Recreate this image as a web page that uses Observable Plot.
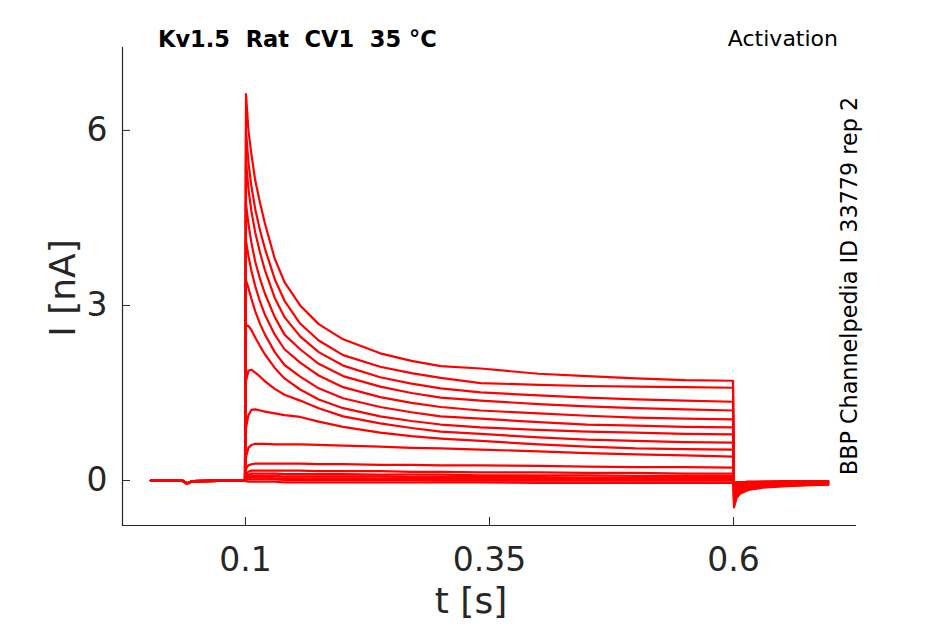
<!DOCTYPE html>
<html><head><meta charset="utf-8">
<script src="https://cdn.jsdelivr.net/npm/d3@7"></script>
<script src="https://cdn.jsdelivr.net/npm/@observablehq/plot@0.6"></script>
<style>
body{margin:0;background:#fff;}
#wrap{position:relative;width:945px;height:624px;}
</style></head><body><div id="wrap"></div>
<script>
// ---- data ----
const xTicks = [0.1, 0.35, 0.6];
const xTickLabels = ["0.1", "0.35", "0.6"];
const yTicks = [0, 3, 6];
const yTickLabels = ["0", "3", "6"];

const preTimes = [0.003, 0.035, 0.040, 0.045, 0.0995];
const baseline = [0.0, 0.0, -0.05, -0.01, 0.0];

const stepTimes = [0.1005, 0.103, 0.106, 0.11, 0.115, 0.12, 0.13, 0.14, 0.156, 0.175,
                   0.2, 0.238, 0.27, 0.3, 0.341, 0.4, 0.45, 0.5, 0.55, 0.5995];
const stepCurrents = [
  [6.62, 6.00, 5.60, 5.14, 4.75, 4.40, 3.80, 3.40, 3.00, 2.68, 2.42, 2.18, 2.05, 1.96, 1.92, 1.83, 1.79, 1.75, 1.72, 1.71],
  [6.00, 5.45, 5.05, 4.65, 4.28, 3.97, 3.45, 3.08, 2.69, 2.40, 2.15, 1.95, 1.84, 1.76, 1.67, 1.64, 1.62, 1.61, 1.60, 1.59],
  [5.49, 5.00, 4.62, 4.25, 3.90, 3.60, 3.13, 2.80, 2.47, 2.20, 1.97, 1.77, 1.66, 1.58, 1.51, 1.46, 1.42, 1.39, 1.37, 1.35],
  [4.75, 4.40, 4.08, 3.75, 3.45, 3.20, 2.80, 2.50, 2.25, 2.00, 1.79, 1.61, 1.50, 1.42, 1.37, 1.31, 1.27, 1.24, 1.22, 1.20],
  [4.11, 3.85, 3.60, 3.33, 3.06, 2.84, 2.50, 2.25, 2.02, 1.80, 1.60, 1.43, 1.33, 1.26, 1.20, 1.15, 1.11, 1.08, 1.06, 1.05],
  [3.43, 3.30, 3.12, 2.90, 2.68, 2.50, 2.20, 1.98, 1.78, 1.58, 1.41, 1.26, 1.17, 1.10, 1.06, 1.00, 0.96, 0.94, 0.92, 0.91],
  [2.66, 2.65, 2.58, 2.45, 2.30, 2.16, 1.93, 1.75, 1.56, 1.39, 1.24, 1.10, 1.02, 0.96, 0.91, 0.87, 0.84, 0.82, 0.80, 0.79],
  [1.70, 1.88, 1.90, 1.85, 1.78, 1.70, 1.57, 1.47, 1.37, 1.24, 1.10, 0.98, 0.90, 0.84, 0.80, 0.74, 0.70, 0.68, 0.66, 0.65],
  [0.90, 1.12, 1.21, 1.22, 1.20, 1.18, 1.15, 1.12, 1.09, 1.01, 0.92, 0.82, 0.76, 0.72, 0.68, 0.62, 0.58, 0.55, 0.54, 0.53],
  [0.40, 0.56, 0.61, 0.63, 0.63, 0.63, 0.62, 0.62, 0.62, 0.61, 0.60, 0.58, 0.56, 0.55, 0.53, 0.50, 0.47, 0.45, 0.43, 0.41],
  [0.20, 0.26, 0.28, 0.29, 0.29, 0.29, 0.29, 0.29, 0.29, 0.28, 0.28, 0.27, 0.27, 0.26, 0.26, 0.25, 0.24, 0.23, 0.23, 0.22],
  [0.10, 0.15, 0.17, 0.17, 0.17, 0.17, 0.17, 0.17, 0.17, 0.16, 0.16, 0.16, 0.15, 0.15, 0.14, 0.14, 0.13, 0.13, 0.12, 0.12],
  [0.06, 0.10, 0.12, 0.12, 0.12, 0.12, 0.12, 0.11, 0.11, 0.11, 0.11, 0.10, 0.10, 0.10, 0.09, 0.09, 0.09, 0.08, 0.08, 0.08],
  [0.04, 0.07, 0.08, 0.08, 0.08, 0.08, 0.08, 0.07, 0.07, 0.07, 0.07, 0.07, 0.06, 0.06, 0.06, 0.06, 0.05, 0.05, 0.05, 0.05],
  [0.02, 0.04, 0.05, 0.05, 0.05, 0.05, 0.04, 0.04, 0.04, 0.04, 0.04, 0.04, 0.03, 0.03, 0.03, 0.03, 0.03, 0.03, 0.03, 0.03],
  [0.01, 0.02, 0.02, 0.02, 0.02, 0.02, 0.02, 0.01, 0.01, 0.01, 0.01, 0.01, 0.01, 0.00, 0.00, 0.00, 0.00, 0.00, 0.00, 0.00],
  [-0.01, -0.02, -0.02, -0.02, -0.02, -0.02, -0.02, -0.03, -0.03, -0.03, -0.03, -0.03, -0.03, -0.03, -0.03, -0.04, -0.04, -0.04, -0.04, -0.04]
];

const tailTimes = [0.6005, 0.603, 0.607, 0.615, 0.63, 0.65, 0.675, 0.697];
const tailCurrents = [
  [-0.46, -0.30, -0.22, -0.16, -0.12, -0.10, -0.08, -0.07],
  [-0.42, -0.28, -0.20, -0.15, -0.11, -0.09, -0.08, -0.07],
  [-0.38, -0.26, -0.19, -0.14, -0.10, -0.08, -0.07, -0.06],
  [-0.34, -0.24, -0.17, -0.13, -0.10, -0.08, -0.07, -0.06],
  [-0.30, -0.22, -0.16, -0.12, -0.09, -0.07, -0.06, -0.05],
  [-0.27, -0.20, -0.14, -0.11, -0.08, -0.07, -0.06, -0.05],
  [-0.24, -0.17, -0.12, -0.09, -0.07, -0.06, -0.05, -0.05],
  [-0.20, -0.14, -0.10, -0.08, -0.06, -0.05, -0.05, -0.04],
  [-0.17, -0.12, -0.09, -0.07, -0.05, -0.05, -0.04, -0.04],
  [-0.13, -0.10, -0.07, -0.05, -0.04, -0.04, -0.03, -0.03],
  [-0.09, -0.07, -0.05, -0.04, -0.03, -0.03, -0.03, -0.02],
  [-0.07, -0.05, -0.04, -0.03, -0.03, -0.02, -0.02, -0.02],
  [-0.06, -0.05, -0.04, -0.03, -0.02, -0.02, -0.02, -0.02],
  [-0.05, -0.04, -0.03, -0.03, -0.02, -0.02, -0.02, -0.01],
  [-0.05, -0.04, -0.03, -0.02, -0.02, -0.02, -0.01, -0.01],
  [-0.04, -0.03, -0.03, -0.02, -0.02, -0.01, -0.01, -0.01],
  [-0.04, -0.03, -0.03, -0.02, -0.02, -0.02, -0.02, -0.02]
];

const xDomain = [-0.026, 0.726];
const yDomain = [-0.77, 7.42];

// ---- build table ----
const rows = [];
stepCurrents.forEach((sweep, s) => {
  preTimes.forEach((t, k) => rows.push({sweep: s, t, i: baseline[k]}));
  stepTimes.forEach((t, k) => rows.push({sweep: s, t, i: sweep[k]}));
  tailTimes.forEach((t, k) => rows.push({sweep: s, t, i: tailCurrents[s][k]}));
});

const axisColor = "#262626";
const font = "DejaVu Sans";

const chart = Plot.plot({
  width: 945, height: 624,
  marginLeft: 122, marginRight: 89, marginTop: 47, marginBottom: 99,
  style: {fontFamily: font, background: "white", color: axisColor},
  x: {domain: xDomain},
  y: {domain: yDomain},
  marks: [
    Plot.line(rows, {x: "t", y: "i", z: "sweep", stroke: "#ff0000", strokeWidth: 2.2}),
    Plot.ruleX([xDomain[0]], {stroke: axisColor, strokeWidth: 1.2}),
    Plot.ruleY([yDomain[0]], {stroke: axisColor, strokeWidth: 1.2}),
    Plot.axisX(xTicks, {tickSize: -8, tickPadding: 30, fontSize: 33, stroke: axisColor, fill: axisColor,
      tickFormat: d => xTickLabels[xTicks.indexOf(d)], label: null}),
    Plot.axisY(yTicks, {tickSize: -8, tickPadding: 23, fontSize: 33, stroke: axisColor, fill: axisColor,
      tickFormat: d => yTickLabels[yTicks.indexOf(d)], label: null})
  ]
});

const svg = d3.select(chart);
svg.append("text").attr("x", 471).attr("y", 613).attr("text-anchor", "middle")
  .attr("font-family", font).attr("font-size", 36).attr("fill", axisColor).text("t [s]");
svg.append("text").attr("transform", "translate(75,288) rotate(-90)").attr("text-anchor", "middle")
  .attr("font-family", font).attr("font-size", 36).attr("fill", axisColor).text("I [nA]");
svg.append("text").attr("x", 158).attr("y", 47).attr("text-anchor", "start").attr("font-family", font)
  .attr("font-size", 22.5).attr("font-weight", "bold").attr("fill", "#000")
  .style("white-space", "pre").text("Kv1.5  Rat  CV1  35 °C");
svg.append("text").attr("x", 838).attr("y", 46).attr("text-anchor", "end").attr("font-family", font)
  .attr("font-size", 22).attr("fill", "#000").text("Activation");
svg.append("text").attr("transform", "translate(857,286) rotate(-90)").attr("text-anchor", "middle")
  .attr("font-family", font).attr("font-size", 22.3).attr("fill", "#000").text("BBP Channelpedia ID 33779 rep 2");

document.getElementById("wrap").appendChild(chart);
</script></body></html>
